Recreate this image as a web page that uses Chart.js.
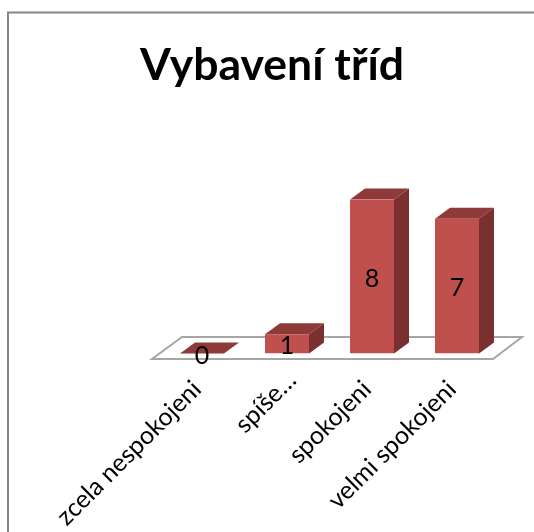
<!DOCTYPE html>
<html><head><meta charset="utf-8">
<style>
html,body{margin:0;padding:0;background:#fff;overflow:hidden}
#w{position:absolute;left:0;top:0;width:534px;height:532px}
</style>
<script src="https://cdn.jsdelivr.net/npm/chart.js@4"></script>
</head><body><div id="w"><canvas id="c" width="534" height="532"></canvas></div>
<script>
const categories = ["zcela nespokojeni", "spíše…", "spokojeni", "velmi spokojeni"];
const values = [0, 1, 8, 7];
const titleText = "Vybavení tříd";

const DX = 15, DY = -11;
const FRONT = "#C0504D", TOP = "#8E3A38", SIDE = "#7A302E", FLOOR = "#A6A6A6", FRAME = "#868686";

function poly(ctx, pts, fill, stroke, lw) {
  ctx.beginPath();
  pts.forEach((p, i) => i ? ctx.lineTo(p[0], p[1]) : ctx.moveTo(p[0], p[1]));
  ctx.closePath();
  if (fill) { ctx.fillStyle = fill; ctx.fill(); }
  if (stroke) { ctx.strokeStyle = stroke; ctx.lineWidth = lw; ctx.lineJoin = "miter"; ctx.stroke(); }
}

const scene = {
  id: "scene",
  afterLayout(chart) {
    const t = chart.titleBlock;
    t.left -= 57.5; t.right -= 57.5;
  },
  beforeDraw(chart) {
    const { ctx, scales: { x } } = chart;
    ctx.save();
    ctx.strokeStyle = FRAME; ctx.lineWidth = 2;
    ctx.beginPath(); ctx.moveTo(8, 532); ctx.lineTo(8, 12.5); ctx.lineTo(534, 12.5); ctx.stroke();
    ctx.restore();
    x.getLabelItems().forEach((it, i) => {
      if (it.moved) return;
      it.options.translation[0] += i === 1 ? 5 : -5;
      it.options.translation[1] += i === 1 ? -9 : 0;
      it.moved = true;
    });
  },
  beforeDatasetsDraw(chart) {
    const { ctx, scales: { y }, chartArea: a } = chart;
    const b = y.getPixelForValue(0);
    ctx.save();
    poly(ctx, [[a.left - 7.5, b + 5.5], [a.right - 6.5, b + 5.5], [a.right + 22.5, b - 16.5], [a.left + 22.5, b - 16.5]], "#FFFFFF", FLOOR, 2);
    chart.getDatasetMeta(0).data.forEach(bar => {
      const l = bar.x - bar.width / 2, r = bar.x + bar.width / 2;
      const t = bar.y, base = bar.base;
      if (base - t > 0.5) poly(ctx, [[r, t], [r + DX, t + DY], [r + DX, base + DY], [r, base]], SIDE);
      poly(ctx, [[l, t], [r, t], [r + DX, t + DY], [l + DX, t + DY]], TOP);
    });
    ctx.restore();
  },
  afterDatasetsDraw(chart) {
    const { ctx } = chart;
    ctx.save();
    ctx.font = "25px Lato, Carlito, sans-serif";
    ctx.fillStyle = "#000";
    ctx.textAlign = "center"; ctx.textBaseline = "middle";
    chart.getDatasetMeta(0).data.forEach((bar, i) => {
      ctx.fillText(String(values[i]), bar.x, (bar.y + bar.base) / 2 + 2);
    });
    ctx.restore();
  }
};

new Chart(document.getElementById("c"), {
  type: "bar",
  data: { labels: categories, datasets: [{ data: values, backgroundColor: FRONT, borderWidth: 0, barPercentage: 44 / 85, categoryPercentage: 1 }] },
  plugins: [scene],
  options: {
    responsive: false, animation: false, devicePixelRatio: 1,
    layout: { padding: { left: 159.5, right: 34.5, top: 0, bottom: 0 } },
    plugins: {
      legend: { display: false }, tooltip: { enabled: false },
      title: { display: true, text: titleText, color: "#000", align: "center",
        font: { family: "Lato, Carlito, sans-serif", size: 44.5, weight: "bold" },
        padding: { top: 39, bottom: 107 } }
    },
    scales: {
      y: { display: false, min: 0, max: 8 },
      x: {
        grid: { display: false }, border: { display: false },
        afterFit(s) { s.height = 178.5; s.paddingLeft = 0; s.paddingRight = 0; },
        ticks: { minRotation: 45, maxRotation: 45, autoSkip: false, color: "#000", padding: 13,
          font: { family: "Lato, Carlito, sans-serif", size: 25 } }
      }
    }
  }
});
</script></body></html>
